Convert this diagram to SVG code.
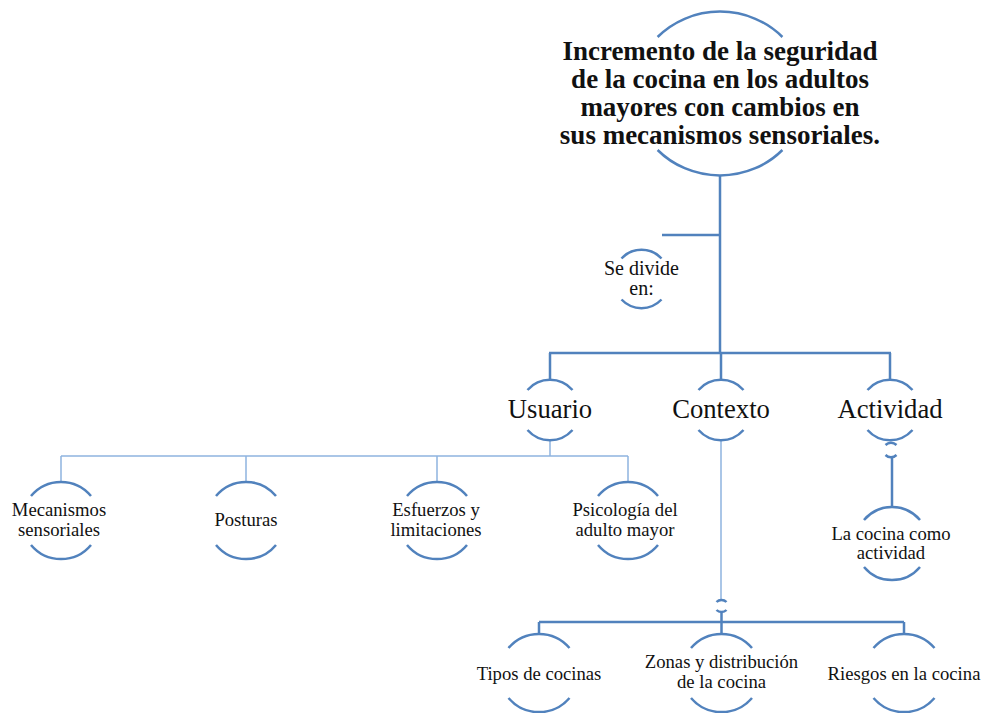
<svg xmlns="http://www.w3.org/2000/svg" width="983" height="713" viewBox="0 0 983 713">
<style>
.arc{fill:none;stroke:#5182bd;stroke-width:2.5}
.ln{fill:none;stroke:#5182bd;stroke-width:2.5}
.lt{fill:none;stroke:#8fb4e0;stroke-width:1.5}
text{font-family:"Liberation Serif","Times New Roman",serif;fill:#111;text-anchor:middle}
.t0{font-size:27px;font-weight:bold}
.t1{font-size:26.67px}
.t2{font-size:18.67px}
.t3{font-size:20px}
</style>
<rect width="983" height="713" fill="#fff"/>
<g id="connectors">
<path class="ln" d="M720 176V353M662 235H720M549 353H891M550 353V380M721 353V380M890 353V380"/>
<path class="lt" d="M550 440V456M61 456H628M61 456V481M246 456V481M437 456V481M628 456V481M721 440V599"/>
<path class="ln" d="M721.5 613V622M539 622H904M539 622V633M721.5 622V633M904 622V633"/>
<path class="ln" d="M892 458V507"/>
</g>
<g id="root">
<path class="arc" d="M657.6 37 A86 81.5 0 0 1 782.4 37"/>
<path class="arc" d="M657.6 150 A86 81.5 0 0 0 782.4 150"/>
<text class="t0" x="720" y="60">Incremento de la seguridad</text>
<text class="t0" x="720" y="88">de la cocina en los adultos</text>
<text class="t0" x="720" y="116">mayores con cambios en</text>
<text class="t0" x="720" y="144">sus mecanismos sensoriales.</text>
</g>
<g id="sedivide">
<path class="arc" d="M621.5 258.5 A27.5 27.5 0 0 1 661.5 258.5"/>
<path class="arc" d="M621.5 299.5 A27.5 27.5 0 0 0 661.5 299.5"/>
<text class="t3" x="641.5" y="275">Se divide</text>
<text class="t3" x="641.5" y="295">en:</text>
</g>
<g id="usuario">
<path class="arc" d="M527.5 390 A30 30 0 0 1 572.5 390"/>
<path class="arc" d="M527.5 430 A30 30 0 0 0 572.5 430"/>
<text class="t1" x="550" y="418">Usuario</text>
</g>
<g id="contexto">
<path class="arc" d="M698.5 390 A30 30 0 0 1 743.5 390"/>
<path class="arc" d="M698.5 430 A30 30 0 0 0 743.5 430"/>
<text class="t1" x="721" y="418">Contexto</text>
</g>
<g id="actividad">
<path class="arc" d="M867.5 390 A30 30 0 0 1 912.5 390"/>
<path class="arc" d="M867.5 430 A30 30 0 0 0 912.5 430"/>
<text class="t1" x="890" y="418">Actividad</text>
</g>
<g id="mecanismos">
<path class="arc" d="M31 496 A39 39 0 0 1 91 496"/>
<path class="arc" d="M31 545 A39 39 0 0 0 91 545"/>
<text class="t2" x="59" y="516">Mecanismos</text>
<text class="t2" x="59" y="536">sensoriales</text>
</g>
<g id="posturas">
<path class="arc" d="M216 496 A39 39 0 0 1 276 496"/>
<path class="arc" d="M216 545 A39 39 0 0 0 276 545"/>
<text class="t2" x="246" y="526">Posturas</text>
</g>
<g id="esfuerzos">
<path class="arc" d="M407 496 A39 39 0 0 1 467 496"/>
<path class="arc" d="M407 545 A39 39 0 0 0 467 545"/>
<text class="t2" x="436" y="516">Esfuerzos y</text>
<text class="t2" x="436" y="536">limitaciones</text>
</g>
<g id="psicologia">
<path class="arc" d="M598 496 A39 39 0 0 1 658 496"/>
<path class="arc" d="M598 545 A39 39 0 0 0 658 545"/>
<text class="t2" x="625" y="516">Psicología del</text>
<text class="t2" x="625" y="536">adulto mayor</text>
</g>
<g id="empty-actividad">
<path class="arc" d="M885.5 445 A8 8 0 0 1 896.5 445"/>
<path class="arc" d="M885.5 455 A8 8 0 0 0 896.5 455"/>
</g>
<g id="lacocina">
<path class="arc" d="M864 520 A36.5 36.5 0 0 1 920 520"/>
<path class="arc" d="M864 567 A36.5 36.5 0 0 0 920 567"/>
<text class="t2" x="891" y="540">La cocina como</text>
<text class="t2" x="891" y="559">actividad</text>
</g>
<g id="empty-contexto">
<path class="arc" d="M716.5 602 A7 7 0 0 1 726.5 602"/>
<path class="arc" d="M716.5 610 A7 7 0 0 0 726.5 610"/>
</g>
<g id="tipos">
<path class="arc" d="M508.5 648 A40 40 0 0 1 569.5 648"/>
<path class="arc" d="M508.5 698 A40 40 0 0 0 569.5 698"/>
<text class="t2" x="539" y="680">Tipos de cocinas</text>
</g>
<g id="zonas">
<path class="arc" d="M691 648 A40 40 0 0 1 752 648"/>
<path class="arc" d="M691 698 A40 40 0 0 0 752 698"/>
<text class="t2" x="721.5" y="668">Zonas y distribución</text>
<text class="t2" x="721.5" y="688">de la cocina</text>
</g>
<g id="riesgos">
<path class="arc" d="M873.5 648 A40 40 0 0 1 934.5 648"/>
<path class="arc" d="M873.5 698 A40 40 0 0 0 934.5 698"/>
<text class="t2" x="904" y="680">Riesgos en la cocina</text>
</g>
</svg>
